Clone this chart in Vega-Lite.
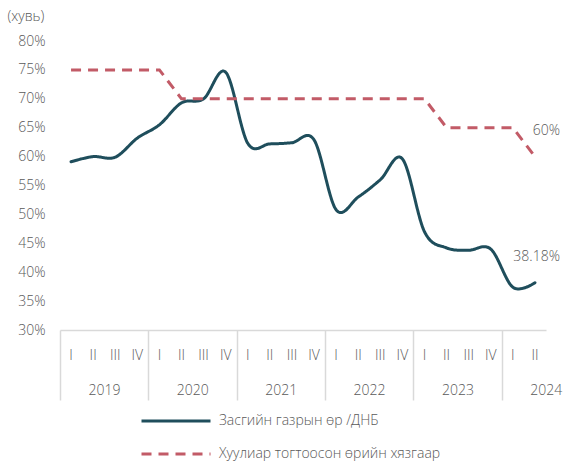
{
  "$schema": "https://vega.github.io/schema/vega-lite/v6.json",
  "width": 486,
  "height": 289,
  "autosize": {"type": "none"},
  "padding": {"left": 60, "top": 41, "right": 19, "bottom": 131},
  "config": {"view": {"stroke": null}, "font": "Open Sans"},
  "data": {"values": [
    {"qid": "2019 I", "series": "Засгийн газрын өр /ДНБ", "value": 59.1},
    {"qid": "2019 II", "series": "Засгийн газрын өр /ДНБ", "value": 60.0},
    {"qid": "2019 III", "series": "Засгийн газрын өр /ДНБ", "value": 59.9},
    {"qid": "2019 IV", "series": "Засгийн газрын өр /ДНБ", "value": 63.2},
    {"qid": "2020 I", "series": "Засгийн газрын өр /ДНБ", "value": 65.5},
    {"qid": "2020 II", "series": "Засгийн газрын өр /ДНБ", "value": 69.3},
    {"qid": "2020 III", "series": "Засгийн газрын өр /ДНБ", "value": 70.0},
    {"qid": "2020 IV", "series": "Засгийн газрын өр /ДНБ", "value": 74.6},
    {"qid": "2021 I", "series": "Засгийн газрын өр /ДНБ", "value": 62.3},
    {"qid": "2021 II", "series": "Засгийн газрын өр /ДНБ", "value": 62.2},
    {"qid": "2021 III", "series": "Засгийн газрын өр /ДНБ", "value": 62.4},
    {"qid": "2021 IV", "series": "Засгийн газрын өр /ДНБ", "value": 62.9},
    {"qid": "2022 I", "series": "Засгийн газрын өр /ДНБ", "value": 50.8},
    {"qid": "2022 II", "series": "Засгийн газрын өр /ДНБ", "value": 53.0},
    {"qid": "2022 III", "series": "Засгийн газрын өр /ДНБ", "value": 56.0},
    {"qid": "2022 IV", "series": "Засгийн газрын өр /ДНБ", "value": 59.6},
    {"qid": "2023 I", "series": "Засгийн газрын өр /ДНБ", "value": 47.0},
    {"qid": "2023 II", "series": "Засгийн газрын өр /ДНБ", "value": 44.2},
    {"qid": "2023 III", "series": "Засгийн газрын өр /ДНБ", "value": 43.8},
    {"qid": "2023 IV", "series": "Засгийн газрын өр /ДНБ", "value": 44.0},
    {"qid": "2024 I", "series": "Засгийн газрын өр /ДНБ", "value": 37.4},
    {"qid": "2024 II", "series": "Засгийн газрын өр /ДНБ", "value": 38.18, "label": "38.18%"},
    {"qid": "2019 I", "series": "Хуулиар тогтоосон өрийн хязгаар", "value": 75},
    {"qid": "2019 II", "series": "Хуулиар тогтоосон өрийн хязгаар", "value": 75},
    {"qid": "2019 III", "series": "Хуулиар тогтоосон өрийн хязгаар", "value": 75},
    {"qid": "2019 IV", "series": "Хуулиар тогтоосон өрийн хязгаар", "value": 75},
    {"qid": "2020 I", "series": "Хуулиар тогтоосон өрийн хязгаар", "value": 75},
    {"qid": "2020 II", "series": "Хуулиар тогтоосон өрийн хязгаар", "value": 70},
    {"qid": "2020 III", "series": "Хуулиар тогтоосон өрийн хязгаар", "value": 70},
    {"qid": "2020 IV", "series": "Хуулиар тогтоосон өрийн хязгаар", "value": 70},
    {"qid": "2021 I", "series": "Хуулиар тогтоосон өрийн хязгаар", "value": 70},
    {"qid": "2021 II", "series": "Хуулиар тогтоосон өрийн хязгаар", "value": 70},
    {"qid": "2021 III", "series": "Хуулиар тогтоосон өрийн хязгаар", "value": 70},
    {"qid": "2021 IV", "series": "Хуулиар тогтоосон өрийн хязгаар", "value": 70},
    {"qid": "2022 I", "series": "Хуулиар тогтоосон өрийн хязгаар", "value": 70},
    {"qid": "2022 II", "series": "Хуулиар тогтоосон өрийн хязгаар", "value": 70},
    {"qid": "2022 III", "series": "Хуулиар тогтоосон өрийн хязгаар", "value": 70},
    {"qid": "2022 IV", "series": "Хуулиар тогтоосон өрийн хязгаар", "value": 70},
    {"qid": "2023 I", "series": "Хуулиар тогтоосон өрийн хязгаар", "value": 70},
    {"qid": "2023 II", "series": "Хуулиар тогтоосон өрийн хязгаар", "value": 65},
    {"qid": "2023 III", "series": "Хуулиар тогтоосон өрийн хязгаар", "value": 65},
    {"qid": "2023 IV", "series": "Хуулиар тогтоосон өрийн хязгаар", "value": 65},
    {"qid": "2024 I", "series": "Хуулиар тогтоосон өрийн хязгаар", "value": 65},
    {"qid": "2024 II", "series": "Хуулиар тогтоосон өрийн хязгаар", "value": 60, "label": "60%"}
  ]},
  "encoding": {
    "y": {"field": "value", "type": "quantitative", "title": "(хувь)",
      "scale": {"domain": [30, 80], "nice": false, "zero": false},
      "axis": {"values": [30, 35, 40, 45, 50, 55, 60, 65, 70, 75, 80], "labelExpr": "datum.value + '%'",
        "labelOverlap": false, "grid": false, "ticks": false, "domain": false, "labelPadding": 15, "labelFontSize": 14,
        "labelColor": "#595959", "labelFontWeight": 300,
        "titleAngle": 0, "titleAlign": "left", "titleBaseline": "middle", "titleX": -53, "titleY": -25,
        "titleFontSize": 14, "titleFontWeight": 300, "titleColor": "#595959"}}
  },
  "layer": [
    {
      "transform": [{"filter": "datum.series === 'Засгийн газрын өр /ДНБ'"}],
      "mark": {"type": "line", "strokeWidth": 3, "interpolate": "cardinal", "strokeCap": "round"},
      "encoding": {
        "x": {"field": "qid", "type": "ordinal", "sort": null, "bandPosition": 0.5,
          "scale": {"type": "band", "paddingInner": 0, "paddingOuter": 0},
          "axis": {"orient": "bottom", "title": null, "labelExpr": "split(datum.value, ' ')[1]", "labelAngle": 0,
            "ticks": false, "tickSize": 0, "domainColor": "#d9d9d9", "domainWidth": 1.5, "labelPadding": 18,
            "labelOverlap": false, "labelFontSize": 14, "labelColor": "#595959", "labelFontWeight": 300, "grid": false}},
        "color": {"field": "series", "type": "nominal",
          "scale": {"domain": ["Засгийн газрын өр /ДНБ", "Хуулиар тогтоосон өрийн хязгаар"], "range": ["#1f4e5c", "#c25b67"]},
          "legend": {"orient": "none", "legendX": 103, "legendY": 367, "title": null, "direction": "vertical",
            "symbolType": "M-3,0H3", "symbolSize": 529, "symbolStrokeWidth": 3, "labelOffset": 30, "labelLimit": 400,
            "labelFontSize": 14, "labelColor": "#595959", "labelFontWeight": 300, "rowPadding": 13, "padding": 0}},
        "strokeDash": {"field": "series", "type": "nominal",
          "scale": {"domain": ["Засгийн газрын өр /ДНБ", "Хуулиар тогтоосон өрийн хязгаар"], "range": [[1, 0], [10, 7]]},
          "legend": {"orient": "none", "legendX": 103, "legendY": 367, "title": null, "direction": "vertical",
            "symbolType": "M-3,0H3", "symbolSize": 529, "symbolStrokeWidth": 3, "labelOffset": 30, "labelLimit": 400,
            "labelFontSize": 14, "labelColor": "#595959", "labelFontWeight": 300, "rowPadding": 13, "padding": 0}}
      }
    },
    {
      "transform": [{"filter": "datum.series === 'Хуулиар тогтоосон өрийн хязгаар'"}],
      "mark": {"type": "line", "strokeWidth": 3, "interpolate": "linear"},
      "encoding": {
        "x": {"field": "qid", "type": "ordinal", "sort": null, "bandPosition": 0.5,
          "axis": {"orient": "bottom", "title": null, "values": ["2019 I", "2020 I", "2021 I", "2022 I", "2023 I", "2024 I"],
            "labelExpr": "split(datum.value, ' ')[0]", "labelAngle": 0, "domain": false, "grid": false,
            "ticks": true, "tickSize": 70, "tickColor": "#d9d9d9", "tickWidth": 1.5, "tickOffset": -11.05,
            "labelPadding": -17, "labelOffset": 44, "labelBound": false, "labelOverlap": false, "labelFlush": false,
            "labelFontSize": 14, "labelColor": "#595959", "labelFontWeight": 300}},
        "color": {"field": "series", "type": "nominal"},
        "strokeDash": {"field": "series", "type": "nominal"}
      }
    },
    {
      "transform": [{"filter": "isValid(datum.label)"}],
      "mark": {"type": "text", "align": "right", "dx": 25, "dy": -26, "fontSize": 14, "fontWeight": 300, "color": "#595959"},
      "encoding": {
        "x": {"field": "qid", "type": "ordinal", "sort": null, "bandPosition": 0.5, "axis": null},
        "text": {"field": "label"}
      }
    }
  ],
  "resolve": {"axis": {"x": "independent"}}
}
